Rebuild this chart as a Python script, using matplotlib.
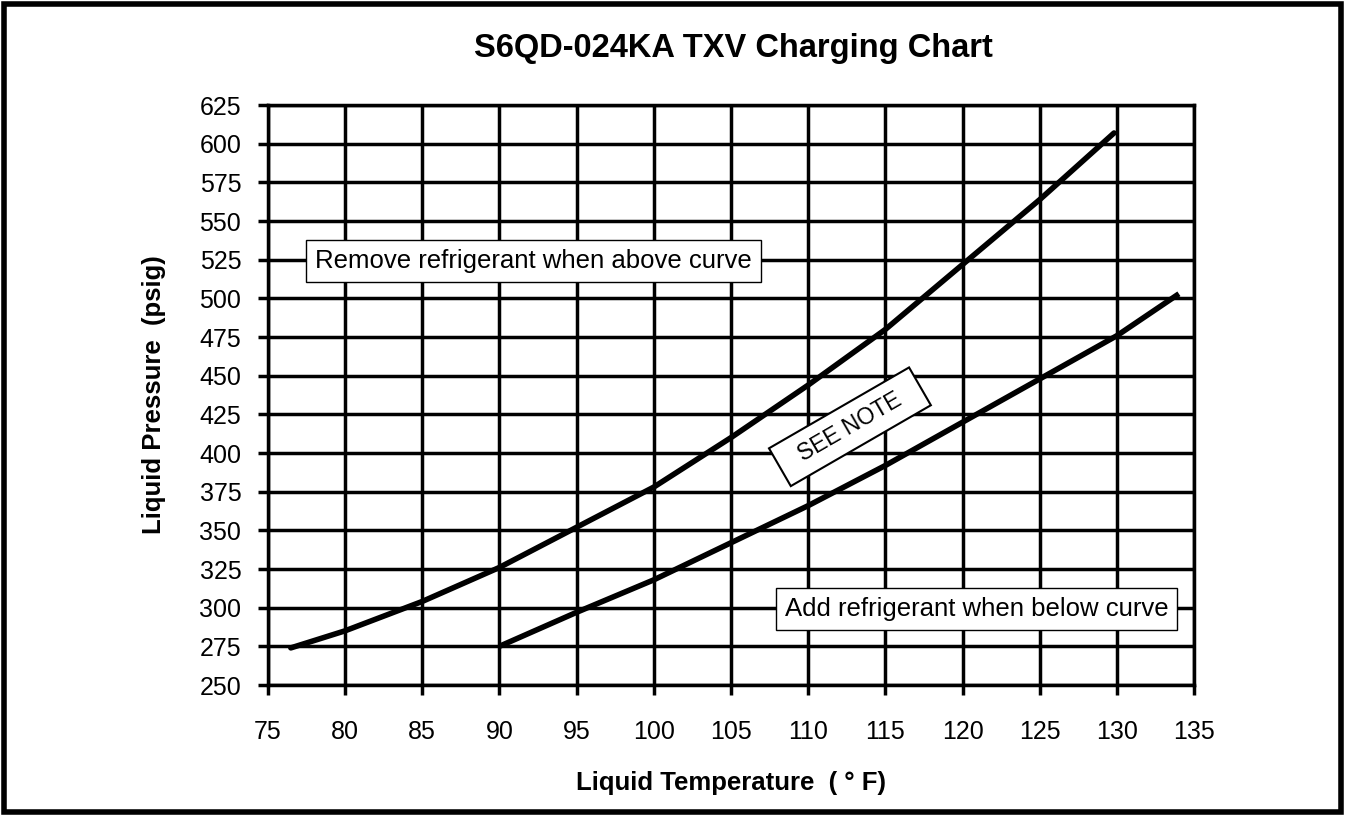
import matplotlib.pyplot as plt
from matplotlib.patches import Rectangle

plt.rcParams['font.family'] = ['Liberation Sans', 'DejaVu Sans']

# upper curve (remove refrigerant above)
upper_t = [76.5, 80, 85, 90, 95, 100, 105, 110, 115, 120, 125, 129.8]
upper_p = [274, 285, 304, 326, 352, 378, 410, 444, 480, 522, 564, 607]

# lower curve (add refrigerant below)
lower_t = [90, 95, 100, 105, 110, 115, 120, 125, 130, 134]
lower_p = [275, 297, 318, 342, 366, 392, 420, 448, 476, 503]

x_ticks = list(range(75, 140, 5))
y_ticks = list(range(250, 650, 25))

fig = plt.figure(figsize=(13.45, 8.15), dpi=100)
ax = fig.add_axes([0.199, 0.1595, 0.689, 0.7115])

ax.plot(upper_t, upper_p, color='black', linewidth=4, solid_capstyle='round', zorder=3)
ax.plot(lower_t, lower_p, color='black', linewidth=4, solid_capstyle='butt', zorder=3)

ax.set_xlim(75, 135)
ax.set_ylim(250, 625)
ax.set_xticks(x_ticks)
ax.set_yticks(y_ticks)
ax.grid(True, color='black', linewidth=2.5)
ax.set_axisbelow(True)
for s in ax.spines.values():
    s.set_linewidth(2.5)
ax.tick_params(direction='out', length=7, width=2.5, labelsize=18)
ax.tick_params(axis='x', pad=18.5)
ax.tick_params(axis='y', pad=12)

ax.set_xlabel('Liquid Temperature  ( ° F)', fontsize=18.5, fontweight='bold', labelpad=19)
ax.set_ylabel('Liquid Pressure  (psig)', fontsize=18.5, fontweight='bold', labelpad=24)
fig.text(0.545, 0.941, 'S6QD-024KA TXV Charging Chart', fontsize=23.5, fontweight='bold',
         ha='center', va='center')

box = dict(boxstyle='square,pad=0.35', facecolor='white', edgecolor='black', linewidth=1)
ax.text(92.2, 524, 'Remove refrigerant when above curve', fontsize=18.5,
        ha='center', va='center', bbox=box, zorder=5)
ax.text(120.9, 299, 'Add refrigerant when below curve', fontsize=18.5,
        ha='center', va='center', bbox=box, zorder=5)
ax.text(112.7, 417, '  SEE NOTE  ', fontsize=16.5, rotation=30, rotation_mode='anchor',
        ha='center', va='center',
        bbox=dict(boxstyle='square,pad=0.45', facecolor='white', edgecolor='black', linewidth=1.5),
        zorder=5)

# outer frame
fig.patches.append(Rectangle((0.003, 0.004), 0.994, 0.991, transform=fig.transFigure,
                             fill=False, edgecolor='black', linewidth=4))

fig.savefig('out.png', dpi=100)
